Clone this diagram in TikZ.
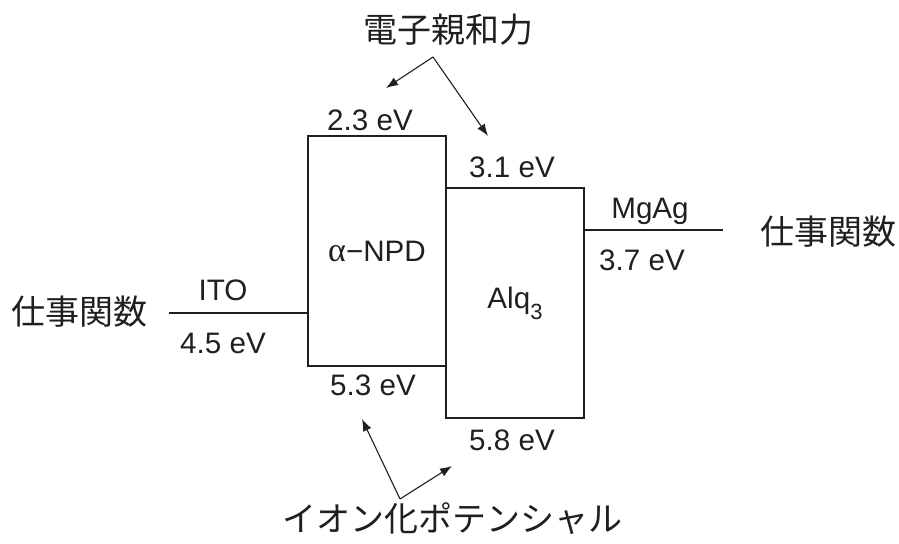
\documentclass[tikz,border=0pt]{standalone}
\usepackage{fontspec}
\setmainfont{Liberation Sans}
\newfontfamily\jpfont{Noto Sans CJK JP}
\newfontfamily\grkfont{Liberation Serif}
\usepackage{tikz}
\usetikzlibrary{arrows.meta,positioning,calc}
\definecolor{bdink}{rgb}{0.12,0.12,0.12}

\begin{document}
\begin{tikzpicture}[
  x=0.5pt, y=-0.5pt,
  font=\fontsize{14.8}{17}\selectfont, bdink,
  layer/.style={draw=bdink, line width=1.4pt, minimum width=69pt,
                minimum height=115pt, inner sep=0pt},
  lvl/.style={inner sep=1pt},
  jp/.style={font=\jpfont\fontsize{17}{20}\selectfont, inner sep=0pt},
  lvlline/.style={draw=bdink, line width=0.9pt},
  ptr/.style={draw=bdink, line width=0.55pt, -{Latex[length=6pt,width=4.5pt]}}
]
\useasboundingbox (0,0) rectangle (899,544);

% --- organic layers ---
\node[layer] (npd) at (377,251) {{\grkfont\fontsize{17}{17}\selectfont α}−NPD};
\node[layer] (alq) at (515,303)
  {Alq\raisebox{-0.7ex}{\fontsize{11}{11}\selectfont 3}};

\node[lvl] (npdLU) at (370,120) {2.3 eV};
\node[lvl] (npdHO) at (373,385) {5.3 eV};
\node[lvl] (alqLU) at (512,167) {3.1 eV};
\node[lvl] (alqHO) at (512,440) {5.8 eV};

% --- electrodes ---
\coordinate (itoEnd) at (169,313);
\draw[lvlline] (itoEnd) -- (itoEnd -| npd.west);
\node[lvl] (ito) at (223,290) {ITO};
\node[lvl] (itoWF) at (223,343) {4.5 eV};
\node[jp] (wfL) at (79,312) {仕事関数};

\coordinate (mgEnd) at (723,230);
\draw[lvlline] (mgEnd -| alq.east) -- (mgEnd);
\node[lvl] (mg) at (650,211) {MgAg};
\node[lvl] (mgWF) at (642,260) {3.7 eV};
\node[jp] (wfR) at (828,232) {仕事関数};

% --- pointers ---
\node[jp] (ea) at (448,30) {電子親和力};
\coordinate (eaO) at (433,57);
\coordinate (eaL) at (386,88);
\coordinate (eaR) at (488,136);
\draw[ptr] (eaO) -- (eaL);
\draw[ptr] (eaO) -- (eaR);

\node[jp] (ip) at (452,519) {イオン化ポテンシャル};
\coordinate (ipO) at (400,499);
\coordinate (ipL) at (362,419);
\coordinate (ipR) at (452,466);
\draw[ptr] (ipO) -- (ipL);
\draw[ptr] (ipO) -- (ipR);

\end{tikzpicture}
\end{document}
